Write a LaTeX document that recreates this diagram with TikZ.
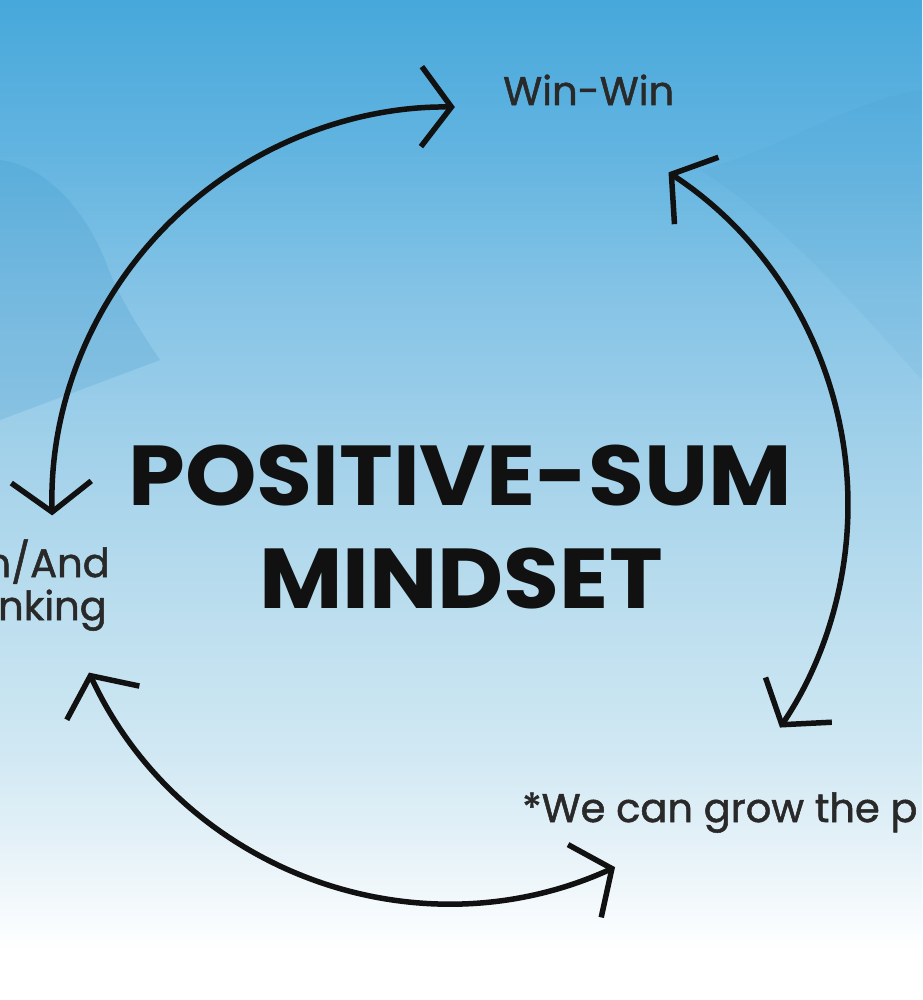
\documentclass[tikz,border=0pt]{standalone}
\usepackage{fontspec}
\setmainfont{Poppins}
\newfontfamily\popmed[FakeBold=1.3]{Poppins}
\usetikzlibrary{arrows.meta,calc}
\definecolor{s0}{HTML}{FFFFFF}
\definecolor{s1}{HTML}{F7FBFD}
\definecolor{s2}{HTML}{E6F2F8}
\definecolor{s3}{HTML}{D0E8F3}
\definecolor{s4}{HTML}{BADDEE}
\definecolor{s5}{HTML}{A2D1EA}
\definecolor{s6}{HTML}{86C4E6}
\definecolor{s7}{HTML}{62B4E0}
\definecolor{s8}{HTML}{47A8DB}
\definecolor{mtn}{HTML}{2F8CC4}
\definecolor{ink}{HTML}{111111}
\pgfdeclareverticalshading{sky}{100bp}{color(0bp)=(s0); color(25bp)=(s0); color(27.5bp)=(s0); color(29bp)=(s1); color(32.5bp)=(s2); color(37.5bp)=(s3); color(45bp)=(s4); color(52.5bp)=(s5); color(60bp)=(s6); color(67.5bp)=(s7); color(75bp)=(s8); color(100bp)=(s8)}
\begin{document}
\begin{tikzpicture}[x=1pt,y=-1pt,
  lbl/.style={font=\popmed\fontsize{40}{40}\selectfont, text=ink!90, inner sep=0pt},
  title/.style={font=\fontsize{85}{85}\selectfont\bfseries, text=ink, inner sep=0pt, xscale=1.07},
  cyc/.style={line width=5.5pt, draw=ink, line cap=round,
    {Straight Barb[length=30pt,width=80pt]}-{Straight Barb[length=30pt,width=80pt]}}]
\useasboundingbox (0,0) rectangle (922,1000);
\begin{scope}
\clip (0,0) rectangle (922,1000);
\shade[shading=sky] (0,0) rectangle (922,1000);
% faint mountains
\fill[mtn, opacity=0.18] (0,160) .. controls (40,165) and (80,200) .. (105,260) .. controls (120,300) and (140,330) .. (160,360) -- (0,420) -- cycle;
\fill[mtn, opacity=0.07] (700,170) .. controls (780,150) and (850,100) .. (922,90) -- (922,380) .. controls (850,300) and (780,220) .. (700,170) -- cycle;
% labels
\node[lbl, anchor=base west] (win) at (503,105) {Win-Win};
\node[lbl, anchor=base east] (both1) at (110,577) {n/And};
\node[lbl, anchor=base east] (both2) at (107,620) {nking};
\node[lbl, anchor=base west] (pie) at (522,822) {*We can grow the p};
\node[title, anchor=base] (t1) at (460,505) {POSITIVE-SUM};
\node[title, anchor=base] (t2) at (461,608) {MINDSET};
% cycle arcs
\coordinate (c) at (450,505);
\coordinate (a1) at ([shift={(178.5:398)}]c);
\coordinate (a2) at ([shift={(303.3:398)}]c);
\coordinate (a3) at ([shift={(155.1:398)}]c);
\draw[cyc] (a1) arc[start angle=178.5, end angle=270.7, radius=398];
\draw[cyc] (a2) arc[start angle=303.3, end angle=394, radius=398];
\draw[cyc] (a3) arc[start angle=155.1, end angle=65.5, radius=398];
\end{scope}
\end{tikzpicture}
\end{document}
